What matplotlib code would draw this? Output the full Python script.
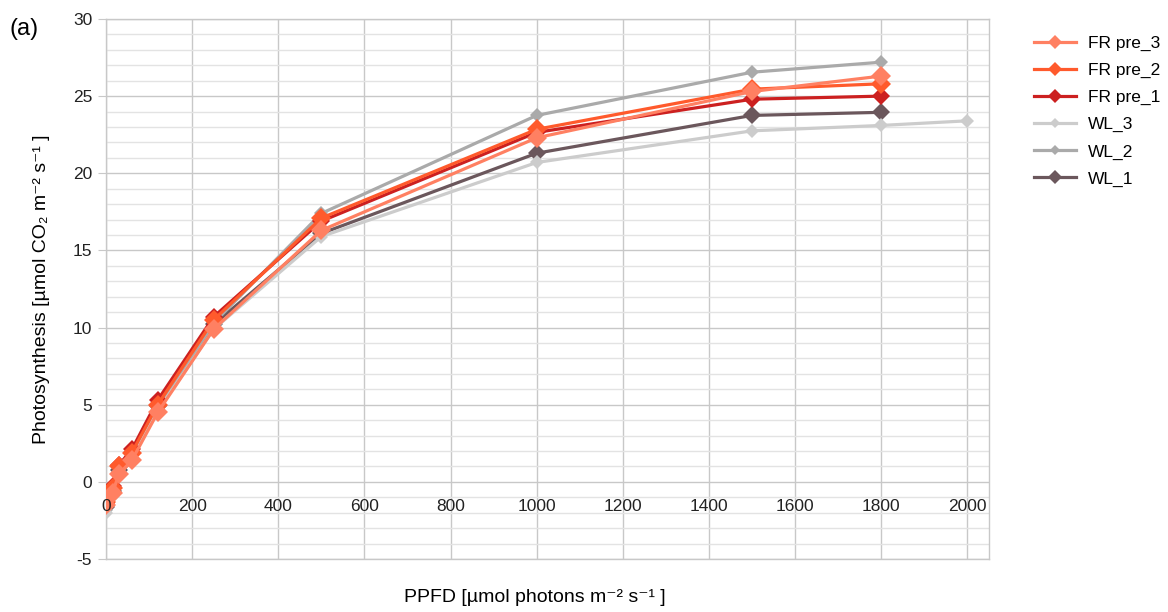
import matplotlib
matplotlib.use("Agg")
import matplotlib.pyplot as plt
from matplotlib.ticker import MultipleLocator

plt.rcParams["font.family"] = ["Liberation Sans", "DejaVu Sans"]
plt.rcParams["axes.unicode_minus"] = False

# Light response curves (PPFD vs net photosynthesis)
ppfd = [0, 15, 30, 60, 120, 250, 500, 1000, 1500, 1800]
ppfd_wl3 = [0, 15, 30, 60, 120, 250, 500, 1000, 1500, 1800, 2000]

fr_pre_3 = [-1.5, -0.7, 0.5, 1.4, 4.5, 9.9, 16.3, 22.3, 25.3, 26.3]
fr_pre_2 = [-1.3, -0.4, 1.0, 1.9, 5.0, 10.5, 17.1, 22.85, 25.45, 25.8]
fr_pre_1 = [-1.4, -0.3, 1.1, 2.1, 5.3, 10.7, 16.9, 22.65, 24.8, 25.0]
wl_3 = [-2.0, -0.9, 0.4, 1.5, 4.6, 9.9, 15.9, 20.7, 22.75, 23.1, 23.4]
wl_2 = [-1.8, -0.7, 0.7, 1.8, 4.8, 10.3, 17.4, 23.75, 26.55, 27.2]
wl_1 = [-1.6, -0.6, 0.8, 1.9, 4.9, 10.2, 16.1, 21.3, 23.75, 23.95]

# drawing order: WL underneath, FR on top
series = [
    ("WL_1", ppfd, wl_1, "#6b575c", 9),
    ("WL_2", ppfd, wl_2, "#aaaaaa", 7),
    ("WL_3", ppfd_wl3, wl_3, "#cccccc", 7),
    ("FR pre_1", ppfd, fr_pre_1, "#cc2020", 9),
    ("FR pre_2", ppfd, fr_pre_2, "#ff5a2c", 10),
    ("FR pre_3", ppfd, fr_pre_3, "#ff8062", 10),
]

rect = [0.0908, 0.0866, 0.7559, 0.8824]
fig = plt.figure(figsize=(11.68, 6.12), dpi=100)
ax = fig.add_axes(rect)

handles = {}
for name, xs, ys, color, ms in series:
    (ln,) = ax.plot(xs, ys, color=color, lw=2.3, marker="D", ms=ms,
                    markeredgewidth=0, label=name, zorder=3)
    handles[name] = ln

ax.set_xlim(0, 2050)
ax.set_ylim(-5, 30)
ax.xaxis.set_major_locator(MultipleLocator(200))
ax.yaxis.set_major_locator(MultipleLocator(5))
ax.yaxis.set_minor_locator(MultipleLocator(1))

ax.grid(which="major", color="#c8c8c8", lw=1.0, zorder=0)
ax.grid(which="minor", axis="y", color="#e3e3e3", lw=1.0, zorder=0)
ax.set_axisbelow(True)

for side in ["top", "right", "left", "bottom"]:
    ax.spines[side].set_color("#c8c8c8")
    ax.spines[side].set_linewidth(1.0)

ax.tick_params(axis="x", length=0, labelbottom=False)
ax.tick_params(axis="y", which="major", length=6, color="#c8c8c8",
               pad=4, labelsize=12.5, labelcolor="#222222")
ax.tick_params(axis="y", which="minor", length=0)

# x tick labels sit on the y=0 line, drawn above the curves
top = fig.add_axes(rect, sharex=ax, sharey=ax, zorder=5)
top.patch.set_visible(False)
for side in ["top", "right", "left"]:
    top.spines[side].set_visible(False)
top.spines["bottom"].set_position(("data", 0))
top.spines["bottom"].set_visible(False)
top.tick_params(axis="x", length=0, pad=12, labelsize=12.5, labelcolor="#222222")
top.tick_params(axis="y", which="both", left=False, labelleft=False)

ax.set_ylabel("Photosynthesis [µmol CO₂ m⁻² s⁻¹ ]", fontsize=14, labelpad=16)
fig.text(0.458, 0.016, "PPFD [µmol photons m⁻² s⁻¹ ]", fontsize=14, ha="center")
fig.text(0.008, 0.943, "(a)", fontsize=17)

order = ["FR pre_3", "FR pre_2", "FR pre_1", "WL_3", "WL_2", "WL_1"]
fig.legend([handles[n] for n in order], order, loc="upper left",
           bbox_to_anchor=(0.872, 0.967), frameon=False, fontsize=12.5,
           handlelength=2.4, handletextpad=0.7, labelspacing=0.68,
           markerscale=0.75)

fig.savefig("out.png", dpi=100)
